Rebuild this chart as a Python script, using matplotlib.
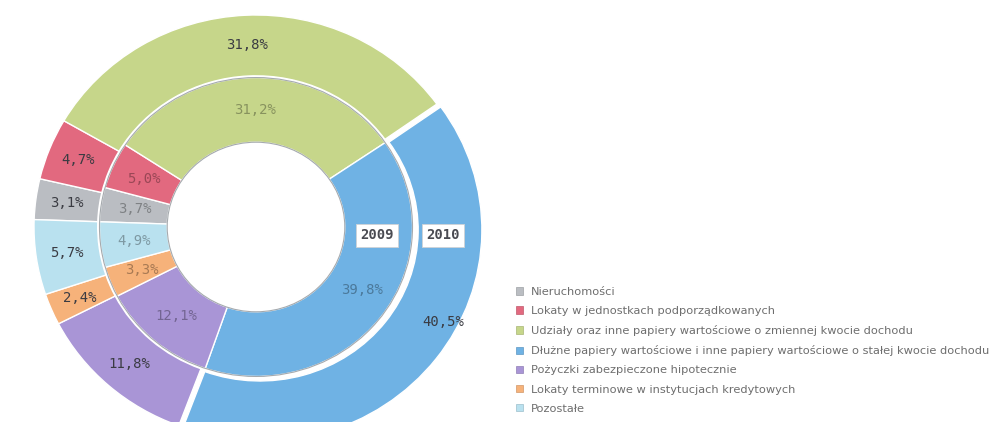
import matplotlib
matplotlib.use("Agg")
import matplotlib.pyplot as plt
import numpy as np
from matplotlib.patches import Patch, Circle
from matplotlib.colors import to_rgb

# Investment structure by category, shares in percent
categories = [
    "Nieruchomości",
    "Lokaty w jednostkach podporządkowanych",
    "Udziały oraz inne papiery wartościowe o zmiennej kwocie dochodu",
    "Dłużne papiery wartościowe i inne papiery wartościowe o stałej kwocie dochodu",
    "Pożyczki zabezpieczone hipotecznie",
    "Lokaty terminowe w instytucjach kredytowych",
    "Pozostałe",
]
share_2009 = [3.7, 5.0, 31.2, 39.8, 12.1, 3.3, 4.9]
share_2010 = [3.1, 4.7, 31.8, 40.5, 11.8, 2.4, 5.7]
years = ["2009", "2010"]
colors = ["#babdc2", "#e2697f", "#c6d68a", "#6fb2e4", "#a995d6", "#f6b27a", "#b9e1ef"]

W, H = 992, 422
fig = plt.figure(figsize=(W / 100, H / 100), dpi=100)
fig.patch.set_facecolor("white")
ax = fig.add_axes([0, 0, 1, 1])

START = 178
R_OUT, W_OUT = 1.0, 0.287
R_IN, W_IN = 0.705, 0.305
HIGHLIGHT = 3  # the debt-securities slice is pulled out on the outer ring

explode_out = [0.022 if i == HIGHLIGHT else 0.0 for i in range(len(share_2010))]

outer, _ = ax.pie(share_2010, radius=R_OUT, startangle=START, counterclock=False,
                  colors=colors, explode=explode_out,
                  wedgeprops=dict(width=W_OUT, edgecolor="white", linewidth=1.0))
inner, _ = ax.pie(share_2009, radius=R_IN, startangle=START, counterclock=False,
                  colors=colors,
                  wedgeprops=dict(width=W_IN, edgecolor="white", linewidth=1.0))

# thin grey rims on the inner ring
for r in (R_IN - W_IN, R_IN):
    ax.add_patch(Circle((0, 0), r, fill=False, ec="#8f959a", lw=0.8, alpha=0.8, zorder=3))

# pixel geometry: centre of the rings and scale per unit radius
cx, cy, sx, sy = 256, 227, 222, 212
ax.set_aspect("auto")
ax.set_xlim(-cx / sx, (W - cx) / sx)
ax.set_ylim(-(H - cy) / sy, cy / sy)
ax.axis("off")


def fmt(v):
    return f"{v:.1f}%".replace(".", ",")


def darker(c, f=0.68):
    r, g, b = to_rgb(c)
    return (r * f, g * f, b * f)


def place_labels(wedges, values, r_mid, special, text_color=None):
    for i, (w, v) in enumerate(zip(wedges, values)):
        if i == HIGHLIGHT:
            ang, rr = special
            x, y = rr * np.cos(np.radians(ang)), rr * np.sin(np.radians(ang))
        else:
            ang = np.radians((w.theta1 + w.theta2) / 2)
            x0, y0 = w.center
            x, y = x0 + r_mid * np.cos(ang), y0 + r_mid * np.sin(ang)
        col = text_color if text_color else darker(colors[i])
        ax.text(x, y, fmt(v), ha="center", va="center", fontsize=10,
                family="DejaVu Sans Mono", color=col, zorder=5)


place_labels(outer, share_2010, R_OUT - W_OUT / 2 + 0.005, (-28, 0.955), text_color="#3a3b42")
place_labels(inner, share_2009, R_IN - W_IN / 2, (-31.9, 0.56))

# year tags
box = dict(boxstyle="square,pad=0.32", fc="white", ec="#cfd3d6", lw=0.6)
for label, xpos in zip(years, (0.545, 0.842)):
    ax.text(xpos, -0.038, label, ha="center", va="center", fontsize=10,
            family="DejaVu Sans Mono", fontweight="bold", color="#4a4b52",
            bbox=box, zorder=6)

handles = [Patch(facecolor=c, edgecolor=darker(c, 0.85), linewidth=0.5) for c in colors]
fig.legend(handles=handles, labels=categories, loc="upper left",
           bbox_to_anchor=(516 / W, 1 - 287 / H), frameon=False, fontsize=8.2,
           handlelength=0.65, handleheight=0.65, handletextpad=0.65,
           labelspacing=0.8, borderpad=0, borderaxespad=0, labelcolor="#6e6e6e")

fig.savefig("out.png", dpi=100, facecolor="white")
